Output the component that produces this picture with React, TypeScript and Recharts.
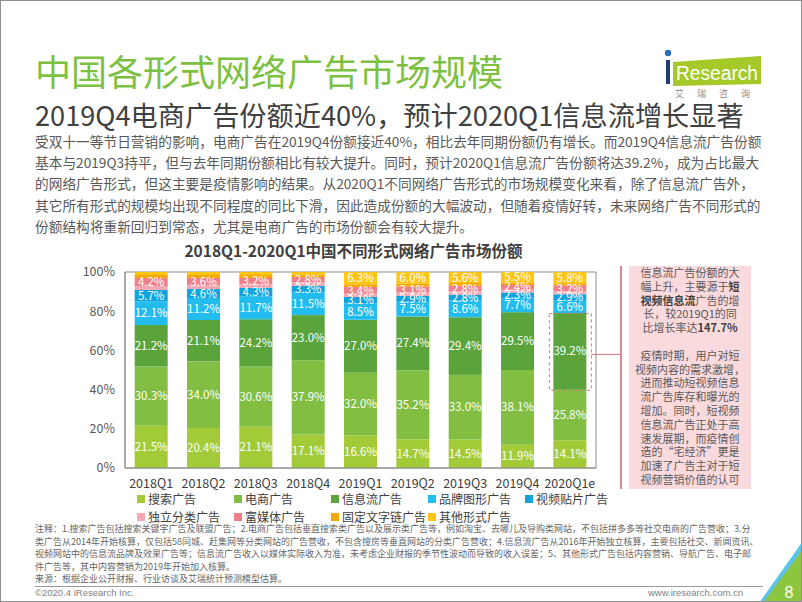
import React from "react";
import { BarChart, Bar, XAxis, YAxis, LabelList, ReferenceArea } from "recharts";

const FONT = '"Noto Sans CJK SC", "Noto Sans", sans-serif';
const NARROW = '"Liberation Sans Narrow", "Liberation Sans", sans-serif';

// categories + shares (%)
const quarters = ["2018Q1", "2018Q2", "2018Q3", "2018Q4", "2019Q1", "2019Q2", "2019Q3", "2019Q4", "2020Q1e"];
const search = [21.5, 20.4, 21.1, 17.1, 16.6, 14.7, 14.5, 11.9, 14.1];
const ecommerce = [30.3, 34.0, 30.6, 37.9, 32.0, 35.2, 33.0, 38.1, 25.8];
const feed = [21.2, 21.1, 24.2, 23.0, 27.0, 27.4, 29.4, 29.5, 39.2];
const brand = [12.1, 11.2, 11.7, 11.5, 8.5, 7.5, 8.6, 7.7, 6.6];
const video = [5.7, 4.6, 4.3, 3.3, 3.1, 2.9, 2.8, 2.3, 2.9];
const classified = [2.0, 2.0, 1.9, 1.8, 1.7, 1.8, 1.9, 1.5, 1.4];
const richMedia = [4.2, 3.6, 3.2, 2.8, 3.4, 3.1, 2.8, 2.4, 3.2];
const textLink = [1.5, 1.6, 1.5, 1.3, 1.4, 1.4, 1.4, 1.1, 1.0];
const other = [1.5, 1.5, 1.5, 1.3, 6.3, 6.0, 5.6, 5.5, 5.8];
const yTicks = [0, 10, 20, 30, 40, 50, 60, 70, 80, 90, 100];

const series = [
  { key: "search", name: "搜索广告", color: "#A3CB38", values: search },
  { key: "ecommerce", name: "电商广告", color: "#82BE41", values: ecommerce },
  { key: "feed", name: "信息流广告", color: "#5AA43B", values: feed },
  { key: "brand", name: "品牌图形广告", color: "#22BDEE", values: brand },
  { key: "video", name: "视频贴片广告", color: "#10A4DE", values: video },
  { key: "classified", name: "独立分类广告", color: "#F3A9B4", values: classified },
  { key: "richMedia", name: "富媒体广告", color: "#EF8089", values: richMedia },
  { key: "textLink", name: "固定文字链广告", color: "#F6A800", values: textLink },
  { key: "other", name: "其他形式广告", color: "#FFC513", values: other },
];

const data = quarters.map((q, i) => {
  const row: any = { q };
  series.forEach((s) => (row[s.key] = s.values[i]));
  return row;
});

const HIGHLIGHT = "#E36D7A";

const FeedShape = (props: any) => {
  const { x, y, width, height, fill, payload } = props;
  const last = payload && payload.q === quarters[quarters.length - 1];
  return (
    <g>
      <rect x={x} y={y} width={width} height={height} fill={fill} />
      {last && (
        <g>
          <rect
            x={x - 4}
            y={y + 0.5}
            width={width + 9}
            height={height}
            fill="none"
            stroke={HIGHLIGHT}
            strokeDasharray="3 3"
          />
          <line
            x1={x + width + 5}
            y1={y + height / 2 + 3}
            x2={x + width + 34}
            y2={y + height / 2 + 3}
            stroke={HIGHLIGHT}
            strokeWidth={1}
          />
        </g>
      )}
    </g>
  );
};

const pctLabel = (v: any) => (Number(v) >= 2.2 ? `${Number(v).toFixed(1)}%` : "");

const bodyLines = [
  "受双十一等节日营销的影响，电商广告在2019Q4份额接近40%，相比去年同期份额仍有增长。而2019Q4信息流广告份额",
  "基本与2019Q3持平，但与去年同期份额相比有较大提升。同时，预计2020Q1信息流广告份额将达39.2%，成为占比最大",
  "的网络广告形式，但这主要是疫情影响的结果。从2020Q1不同网络广告形式的市场规模变化来看，除了信息流广告外，",
  "其它所有形式的规模均出现不同程度的同比下滑，因此造成份额的大幅波动，但随着疫情好转，未来网络广告不同形式的",
  "份额结构将重新回归到常态，尤其是电商广告的市场份额会有较大提升。",
];

const noteLines = [
  "注释：1.搜索广告包括搜索关键字广告及联盟广告；2.电商广告包括垂直搜索类广告以及展示类广告等，例如淘宝、去哪儿及导购类网站，不包括拼多多等社交电商的广告营收；3.分",
  "类广告从2014年开始核算，仅包括58同城、赶集网等分类网站的广告营收，不包含搜房等垂直网站的分类广告营收；4.信息流广告从2016年开始独立核算，主要包括社交、新闻资讯、",
  "视频网站中的信息流品牌及效果广告等；信息流广告收入以媒体实际收入为准，未考虑企业财报的季节性波动而导致的收入误差；5、其他形式广告包括内容营销、导航广告、电子邮",
  "件广告等，其中内容营销为2019年开始加入核算。",
];

const abs = (left: number, top: number, extra: any = {}) => ({
  position: "absolute" as const,
  left,
  top,
  ...extra,
});

export default function App() {
  return (
    <div
      style={{
        position: "absolute",
        left: 0,
        top: 0,
        width: 802,
        height: 602,
        boxSizing: "border-box",
        border: "1px solid #8f8f8f",
        background: "#fff",
        overflow: "hidden",
        fontFamily: FONT,
      }}
    >
      {/* header */}
      <div style={abs(34, 45, { fontSize: 36, color: "#7DC142", lineHeight: "48px", whiteSpace: "nowrap" })}>
        中国各形式网络广告市场规模
      </div>
      <div style={abs(34, 94, { fontSize: 27.2, color: "#404040", lineHeight: "38px", whiteSpace: "nowrap" })}>
        2019Q4电商广告份额近40%，预计2020Q1信息流增长显著
      </div>

      {/* logo */}
      <svg style={abs(660, 42)} width={110} height={58}>
        <circle cx={7} cy={10} r={3.2} fill="#2A6EBB" />
        <polygon points="12,19 100,13 100,41 12,43" fill="#A4C929" />
        <rect x={5} y={17} width={4} height={24} fill="#1F3F6E" />
        <text x={15} y={37} fontSize={20} fill="#fff" fontFamily={NARROW} textLength={82} lengthAdjust="spacingAndGlyphs">
          Research
        </text>
        <text x={14} y={54} fontSize={9} fill="#8c8c8c" letterSpacing={13} fontFamily={FONT}>
          艾瑞咨询
        </text>
      </svg>

      {/* body paragraph */}
      <div style={abs(34, 130, { fontSize: 13.7, color: "#595959", lineHeight: "21.2px" })}>
        {bodyLines.map((l, i) => (
          <div key={i} style={{ whiteSpace: "nowrap" }}>
            {l}
          </div>
        ))}
      </div>

      {/* chart title */}
      <div
        style={abs(100, 238, {
          width: 505,
          textAlign: "center",
          fontSize: 15.5,
          fontWeight: 700,
          color: "#404040",
          lineHeight: "22px",
        })}
      >
        2018Q1-2020Q1中国不同形式网络广告市场份额
      </div>

      {/* chart */}
      <div style={abs(60, 260)}>
        <BarChart
          width={560}
          height={240}
          data={data}
          margin={{ top: 11, right: 25, left: 0, bottom: 3 }}
          barCategoryGap="18.5%"
        >
          <XAxis
            dataKey="q"
            height={30}
            tickLine={false}
            tickMargin={5}
            axisLine={{ stroke: "#8c8c8c" }}
            tick={{ fontSize: 12.5, fill: "#404040", fontFamily: FONT }}
            interval={0}
          />
          <YAxis
            width={64}
            domain={[0, 100]}
            ticks={yTicks}
            tickFormatter={(v) => `${v}%`}
            tickLine={false}
            tickMargin={4}
            axisLine={{ stroke: "#8c8c8c" }}
            tick={{ fontSize: 12.5, fill: "#595959", fontFamily: FONT }}
          />
          {series.map((s) => (
            <Bar
              key={s.key}
              dataKey={s.key}
              name={s.name}
              stackId="a"
              fill={s.color}
              isAnimationActive={false}
              shape={s.key === "feed" ? <FeedShape /> : undefined}
            >
              <LabelList
                dataKey={s.key}
                position="center"
                formatter={pctLabel}
                fill="#fff"
                fontSize={11.5}
                fontFamily={FONT}
              />
            </Bar>
          ))}
          <ReferenceArea y1={0} y2={100} fill="none" stroke="#8c8c8c" ifOverflow="visible" />
        </BarChart>
      </div>

      {/* legend */}
      <div style={abs(136, 489, { width: 500 })}>
        {series.map((s, i) => (
          <div
            key={s.key}
            style={{
              position: "absolute",
              left: (i % 5) * 97,
              top: Math.floor(i / 5) * 18,
              display: "flex",
              alignItems: "center",
              whiteSpace: "nowrap",
              fontSize: 12,
              lineHeight: "18px",
              color: "#404040",
            }}
          >
            <span style={{ width: 8, height: 8, background: s.color, display: "inline-block", marginRight: 3 }} />
            {s.name}
          </div>
        ))}
      </div>

      {/* annotation box */}
      <div style={abs(619, 265, { width: 2, height: 223, background: "#E7838E" })} />
      <div
        style={abs(628, 265, {
          width: 122,
          height: 223,
          background: "#FADADD",
          fontSize: 11,
          lineHeight: "13.8px",
          color: "#595959",
          textAlign: "center",
        })}
      >
        <div>信息流广告份额的大</div>
        <div>
          幅上升，主要源于<b style={{ color: "#404040" }}>短</b>
        </div>
        <div>
          <b style={{ color: "#404040" }}>视频信息流</b>广告的增
        </div>
        <div>长，较2019Q1的同</div>
        <div>
          比增长率达<b style={{ color: "#404040" }}>147.7%</b>
        </div>
        <div>&nbsp;</div>
        <div>疫情时期，用户对短</div>
        <div>视频内容的需求激增，</div>
        <div>进而推动短视频信息</div>
        <div>流广告库存和曝光的</div>
        <div>增加。同时，短视频</div>
        <div>信息流广告正处于高</div>
        <div>速发展期，而疫情创</div>
        <div>造的“宅经济”更是</div>
        <div>加速了广告主对于短</div>
        <div>视频营销价值的认可</div>
      </div>

      {/* notes */}
      <div style={abs(34, 522, { fontSize: 9, color: "#666", lineHeight: "12.5px" })}>
        {noteLines.map((l, i) => (
          <div key={i} style={{ whiteSpace: "nowrap" }}>
            {l}
          </div>
        ))}
        <div style={{ whiteSpace: "nowrap", borderBottom: "1px solid #9a9a9a", width: 728 }}>
          来源：根据企业公开财报、行业访谈及艾瑞统计预测模型估算。
        </div>
      </div>

      {/* footer */}
      <div style={abs(34, 586, { fontSize: 9.5, color: "#7f7f7f", fontFamily: NARROW })}>
        ©2020.4 iResearch Inc.
      </div>
      <div
        style={abs(640, 586, {
          width: 102,
          textAlign: "right",
          fontSize: 9.5,
          color: "#7f7f7f",
          fontFamily: NARROW,
        })}
      >
        www.iresearch.com.cn
      </div>
      <svg style={abs(750, 540)} width={52} height={62}>
        <polygon points="52,0 52,10 20,62 8,62" fill="#5BC3EA" />
        <polygon points="52,8 52,62 12,62" fill="#8CC63F" />
        <text x={38} y={57} fontSize={16} fill="#fff" textAnchor="middle" fontFamily={NARROW}>
          8
        </text>
      </svg>
    </div>
  );
}
